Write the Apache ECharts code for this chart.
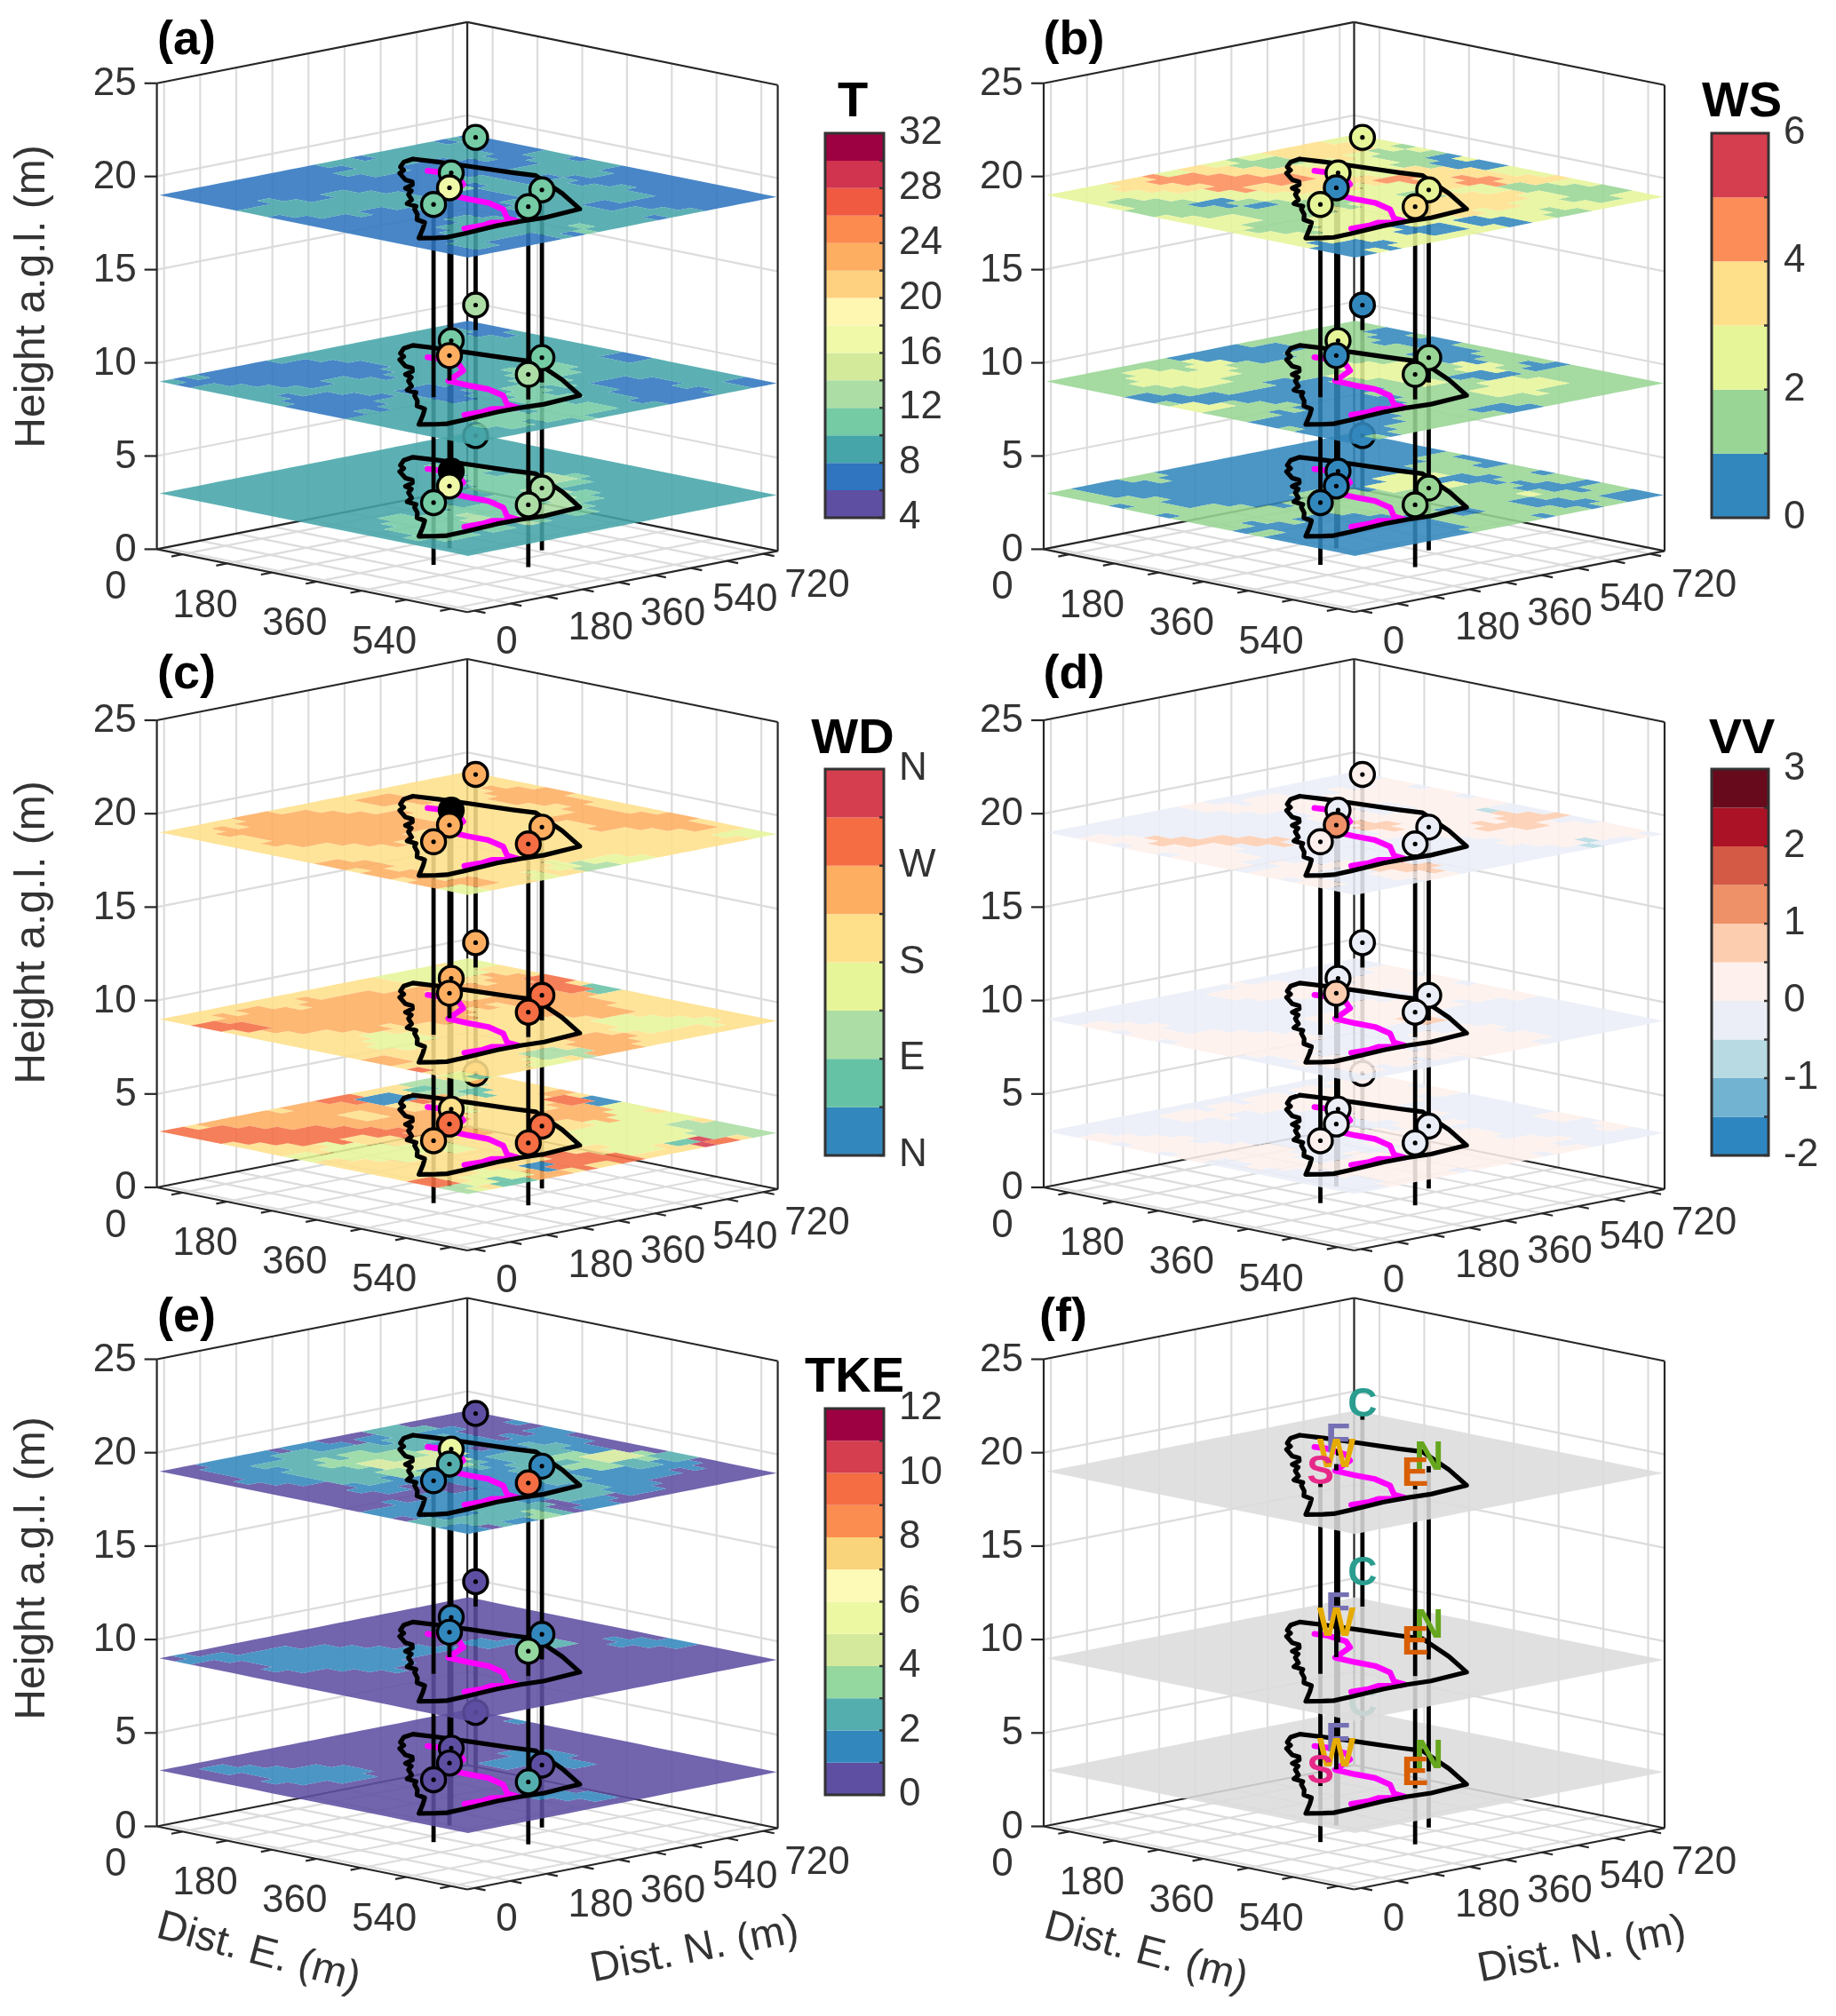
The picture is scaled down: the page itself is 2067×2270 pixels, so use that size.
<!DOCTYPE html>
<html>
<head>
<meta charset="utf-8">
<title>Tower profiles</title>
<script src="https://cdn.jsdelivr.net/npm/echarts@6/dist/echarts.min.js"></script>
<style>
  html,body{margin:0;padding:0;background:#fff;}
  #main{width:2067px;height:2270px;}
</style>
</head>
<body>
<div id="main"></div>
<script>
// axes
var eTicks = [0,90,180,270,360,450,540];
var nTicks = [0,90,180,270,360,450,540,630,720];
var zTicks = [0,5,10,15,20,25];
var eLabels = [0,180,360,540];
var nLabels = [0,180,360,540,720];
var planeHeights = [3,9,19];
var markerHeights = [3.34,10.34,19.34];

// stations, back to front
var stationNames = ['C','F','N','W','E','S'];
var stationColors = ['#2a9d8f','#7570b3','#66a61e','#e6ab02','#d95f02','#e7298a'];
var stationE = [6,161,336,234,407,302];
var stationN = [706,453,462,358,340,234];

// site outline and transect, dist E / dist N
var outlineE = [21,27,49,68,80,118,135,150,160,180,195,225,240,262,275,305,330,352,380,425,441,449,447,440,441,447,438,342,245,226,188,116,61,21];
var outlineN = [531,501,465,450,425,392,388,370,340,330,304,275,245,240,220,190,158,150,111,45,68,85,131,221,278,330,430,505,570,583,572,557,544,531];
var pathE = [95,115,164,198,235,277,316,364,413,438,434,419,425,422];
var pathN = [476,482,469,437,354,351,353,331,280,275,252,233,203,162];

// colour bands, low to high
var tColors = ['#5e4fa2','#2f75bf','#45a5a8','#74cba4','#abdda4','#d3ea9b','#f0f9a8','#fdf7b2','#fdd17f','#fdae61','#fb8b4f','#ef5a41','#d0344e','#9e0142'];
var wsColors = ['#3288bd','#99d594','#e6f598','#fee08b','#fc8d59','#d53e4f'];
var wdColors = ['#3288bd','#66c2a5','#abdda4','#e6f598','#fee08b','#fdae61','#f46d43','#d53e4f'];
var vvColors = ['#2e86c0','#72b3d2','#b8dbe3','#ebeef7','#fef0ec','#fdcdb0','#ef9168','#d45a45','#ab1226','#670a1c'];
var tkeColors = ['#5e4fa2','#3288bd','#54aead','#94d79f','#d5e99c','#edf8a3','#fdfab8','#f9d47a','#fb8d50','#f46d43','#d53e4f','#9e0142'];
var wdTickNames = ['N','E','S','W','N'];

// marker values per height, same order as stationNames. NaN = no marker, BLK = drawn black
var BLK = -99;
var tTop = [11,11,11,17,11,11];
var tMid = [13,11,11,23,13,NaN];
var tLow = [9,BLK,13,17,13,11];
var wsTop = [2.5,2.5,2.5,0.5,3.5,2.5];
var wsMid = [0.5,2.5,1.5,0.5,1.5,NaN];
var wsLow = [0.5,0.5,1.5,0.5,1.5,0.5];
var wdTop = [247,BLK,247,247,292,247];
var wdMid = [247,247,292,247,292,NaN];
var wdLow = [247,202,292,292,292,247];
var vvTop = [0.25,-0.25,-0.25,1.25,-0.25,0.25];
var vvMid = [-0.25,-0.25,-0.25,0.75,-0.25,NaN];
var vvLow = [0.25,-0.25,-0.25,-0.25,-0.25,0.25];
var tkeTop = [0.5,5.5,1.5,2.5,9.5,1.5];
var tkeMid = [0.5,1.5,1.5,1.5,3.5,NaN];
var tkeLow = [0.5,0.5,0.5,0.5,2.5,0.5];

// plane colour band: rows go back corner to front corner, columns left corner to right corner
var tPlane19 = [
'..............21..............',
'............222111............',
'..........2222221122..........',
'........22221111112222........',
'......111222111112222211......',
'....1111111111222112111111....',
'..11111111111131222222211111..',
'111111112222211112222222111111',
'..11122222222111122221111111..',
'....2222221111111122222222....',
'......111111112222222222......',
'........11111122222232........',
'..........1111222112..........',
'............112211............',
'..............11..............'];
var tPlane9 = [
'..............11..............',
'............222112............',
'..........2222222222..........',
'........22222222222222........',
'......222222222222222211......',
'....1111111222222233222222....',
'..11111111122222233322222222..',
'211111112222222223332111122211',
'..22222222221112233222111112..',
'....2211111221122333222111....',
'......111112222222333322......',
'........11222222333332........',
'..........2222233322..........',
'............222222............',
'..............22..............'];
var tPlane3 = [
'..............22..............',
'............222222............',
'..........2222222222..........',
'........22222222222222........',
'......222222233322222222......',
'....2222222222233344322222....',
'..22222222222223334322222222..',
'222222222222222233443222222222',
'..22222222222222333432222222..',
'....2222222222333344322222....',
'......222223333434322222......',
'........22233333322222........',
'..........2233322222..........',
'............222222............',
'..............22..............'];

var wsPlane19 = [
'..............22..............',
'............333321............',
'..........2333321110..........',
'........21112222211000........',
'......233333332223333322......',
'....3444444443334433443332....',
'..23333344333332223322111111..',
'222222222222222221133332211122',
'..21111001011112223333322222..',
'....1111111111222333322211....',
'......222211122222220002......',
'........22111222200022........',
'..........2222222222..........',
'............200002............',
'..............00..............'];
var wsPlane9 = [
'..............11..............',
'............111100............',
'..........1111110000..........',
'........00001111110001........',
'......000000111111000111......',
'....1112211111222211221001....',
'..11222221111122221100011111..',
'111122222110001112211222211111',
'..11111111000000111112221111..',
'....0000000000000111111111....',
'......222111000001111000......',
'........11100000011111........',
'..........0000000111..........',
'............000001............',
'..............00..............'];
var wsPlane3 = [
'..............00..............',
'............000000............',
'..........0000000001..........',
'........00000000001110........',
'......000000000000111111......',
'....1100000000002220001111....',
'..00000000000000222211100011..',
'110000000000111111111112111000',
'..11110000001111111111100001..',
'....1111111111111110011111....',
'......111111000000011111......',
'........11000000000011........',
'..........1000000000..........',
'............000000............',
'..............00..............'];

var wdPlane19 = [
'..............44..............',
'............444444............',
'..........4444445555..........',
'........44555444555554........',
'......444444444444445544......',
'....5555555544444445555555....',
'..44555555555544444445555554..',
'444555555555444444444444444333',
'..44455555554444444444444444..',
'....4444444444444444444444....',
'......444444444444444333......',
'........55544444444322........',
'..........5554444434..........',
'............555544............',
'..............33..............'];
var wdPlane9 = [
'..............33..............',
'............333344............',
'..........4333445566..........',
'........44445555556661........',
'......444555544455555444......',
'....4445555555554555554444....',
'..44555555555554445555544444..',
'444555555555555444444333333444',
'..66655555544444444444333444..',
'....4444443334444444555444....',
'......444433344444445554......',
'........44444444442225........',
'..........5544444433..........',
'............644444............',
'..............31..............'];
var wdPlane3 = [
'..............33..............',
'............222244............',
'..........4412214445..........',
'........66006544444660........',
'......555554443444455533......',
'....5555544555544455553333....',
'..55555555555544444443333222..',
'666666666666555544443333332222',
'..66666664444444444433333176..',
'....4444333333344444443344....',
'......333333344444466664......',
'........44444444440664........',
'..........4444433355..........',
'............664311............',
'..............23..............'];

var vvPlane19 = [
'..............33..............',
'............333344............',
'..........3333444444..........',
'........33444444444444........',
'......344444444333444233......',
'....3333333334444444445553....',
'..33333333333345544445554444..',
'333333333333333344444444444443',
'..44455555553333333333444423..',
'....4444433333333333333333....',
'......444433333333333333......',
'........44344444555333........',
'..........4443334444..........',
'............443333............',
'..............33..............'];
var vvPlane9 = [
'..............33..............',
'............333344............',
'..........3333344444..........',
'........34444444444444........',
'......334444433333444444......',
'....3333333333344444333333....',
'..33333333333344444333333333..',
'333333333333344445533333333333',
'..44443333333333333344333333..',
'....4444444443333344444433....',
'......444444433333444444......',
'........44444333444444........',
'..........3344444433..........',
'............334433............',
'..............33..............'];
var vvPlane3 = [
'..............33..............',
'............334444............',
'..........3344444444..........',
'........33444444443333........',
'......334444444443333333......',
'....3344433333344443333344....',
'..33333333333333344433333334..',
'333333333333334444444433333333',
'..44444333333333444444444333..',
'....4444444433333444444444....',
'......444444333444444444......',
'........33444444444444........',
'..........3333444444..........',
'............333344............',
'..............33..............'];

var tkePlane19 = [
'..............00..............',
'............000001............',
'..........2221100011..........',
'........00122211011110........',
'......111222211011221100......',
'....1122233334412223344322....',
'..11122233444432122233221100..',
'001111222223321112221111100000',
'..00111122211111112221110000..',
'....0000011100011111221100....',
'......000000011111122100......',
'........00011111222011........',
'..........1111122232..........',
'............222221............',
'..............11..............'];
var tkePlane9 = [
'..............00..............',
'............000000............',
'..........0000000000..........',
'........00000000000000........',
'......000000000000000000......',
'....0000000000011122001111....',
'..00011111111100000000000000..',
'011111111111000000000000000000',
'..00011111110000000000000000..',
'....0000000000000000000000....',
'......000000000000000000......',
'........00000000000000........',
'..........0000000000..........',
'............000000............',
'..............00..............'];
var tkePlane3 = [
'..............00..............',
'............000001............',
'..........0000000000..........',
'........00000000000000........',
'......000000000000000000......',
'....0000000000000111000000....',
'..00000000000000112110000000..',
'001111111100000000000000000000',
'..00011111000000000000000000..',
'....0000000000000000000000....',
'......000000000000111100......',
'........00000000000000........',
'..........0000000000..........',
'............000000............',
'..............00..............'];

// layout
var eMin=-51, eMax=573, nMin=-18, nMax=756, zMax=25;
var planeE0=-48, planeE1=572, planeN0=-15, planeN1=755, nECells=20, nNCells=26;
var halfW=349.5, dropE=71, riseN=69, zScale=21.04;
var panelLeft=[176.6,1175,176.6,1175,176.6,1175];
var panelBase=[618,618,1337,1337,2056.5,2056.5];
var barLeft=[929,1927,929,1927,929], barWidth=[66,64,66,64,66];
var barTop=[150,150,866,866,1586], barHeight=[433,433,435,435,435];
var FONT='"Liberation Sans"';
var INK='#333333';

var panels=[
  {label:'(a)',title:'T',colors:tColors,min:4,step:2,tick:4,planes:[tPlane3,tPlane9,tPlane19],bases:[2,2,1],marks:[tLow,tMid,tTop]},
  {label:'(b)',title:'WS',colors:wsColors,min:0,step:1,tick:2,planes:[wsPlane3,wsPlane9,wsPlane19],bases:[0,1,2],marks:[wsLow,wsMid,wsTop]},
  {label:'(c)',title:'WD',colors:wdColors,min:0,step:45,tick:90,planes:[wdPlane3,wdPlane9,wdPlane19],bases:[4,4,4],marks:[wdLow,wdMid,wdTop],names:wdTickNames},
  {label:'(d)',title:'VV',colors:vvColors,min:-2,step:0.5,tick:1,planes:[vvPlane3,vvPlane9,vvPlane19],bases:[3,3,3],marks:[vvLow,vvMid,vvTop]},
  {label:'(e)',title:'TKE',colors:tkeColors,min:0,step:1,tick:2,planes:[tkePlane3,tkePlane9,tkePlane19],bases:[0,0,0],marks:[tkeLow,tkeMid,tkeTop]},
  {label:'(f)',title:'',colors:['#dcdcdc'],min:0,step:1,planes:[[],[],[]],bases:[0,0,0],letters:true}
];

function proj(E,N,z){
  var u=(E-eMin)/(eMax-eMin), v=(N-nMin)/(nMax-nMin);
  return [170+halfW*(u+v), 620+dropE*u-riseN*v-z*zScale];
}

function customSeries(idx,order,rows,draw){
  return {
    type:'custom',xAxisIndex:idx,yAxisIndex:idx,z:order,silent:true,animation:false,clip:false,
    data:rows.map(function(r,k){return [k,k];}),
    renderItem:function(params,api){
      return draw(rows[params.dataIndex],function(E,N,z){return api.coord(proj(E,N,z));},api);
    }
  };
}

function seg(a,b,color,width){
  return {type:'line',shape:{x1:a[0],y1:a[1],x2:b[0],y2:b[1]},style:{stroke:color,lineWidth:width,lineCap:'butt'}};
}

function frameRows(){
  var rows=[], GRID='#dcdcdc', BOX='#262626';
  eTicks.forEach(function(e){
    rows.push([e,nMax,0,e,nMax,zMax,GRID,2.2]);
    rows.push([e,nMin,0,e,nMax,0,GRID,2.2]);
  });
  nTicks.forEach(function(n){
    rows.push([eMin,n,0,eMin,n,zMax,GRID,2.2]);
    rows.push([eMin,n,0,eMax,n,0,GRID,2.2]);
  });
  zTicks.slice(1,5).forEach(function(z){
    rows.push([eMin,nMin,z,eMin,nMax,z,GRID,2.2]);
    rows.push([eMin,nMax,z,eMax,nMax,z,GRID,2.2]);
  });
  // box edges
  rows.push([eMin,nMin,zMax,eMin,nMax,zMax,BOX,2.2]);
  rows.push([eMin,nMax,zMax,eMax,nMax,zMax,BOX,2.2]);
  rows.push([eMin,nMin,0,eMin,nMin,zMax,BOX,2.2]);
  rows.push([eMin,nMax,0,eMin,nMax,zMax,BOX,2.2]);
  rows.push([eMax,nMax,0,eMax,nMax,zMax,BOX,2.2]);
  rows.push([eMin,nMin,0,eMax,nMin,0,BOX,2.2]);
  rows.push([eMax,nMin,0,eMax,nMax,0,BOX,2.2]);
  rows.push([eMin,nMin,0,eMin,nMax,0,BOX,2.2]);
  rows.push([eMin,nMax,0,eMax,nMax,0,BOX,2.2]);
  // floor ticks stick out along the other axis
  eTicks.forEach(function(e){ rows.push([e,nMin,0,e,nMin-27,0,BOX,2.2]); });
  nTicks.forEach(function(n){ rows.push([eMax,n,0,eMax+22,n,0,BOX,2.2]); });
  return rows;
}

function bandIndex(p,v){ return Math.floor((v-p.min)/p.step); }

// one path per colour band, so cells of one band have no seams between them
function planeRows(p,lvl){
  var scan=p.planes[lvl], base=p.bases[lvl], z=planeHeights[lvl], byBand={};
  for(var i=0;i<nECells;i++){
    for(var j=0;j<nNCells;j++){
      var u=(i+0.5)/nECells, v=(j+0.5)/nNCells;
      var r=Math.floor((u-v+1)/2*15), c=Math.floor((u+v)/2*30);
      var ch=scan[r]?scan[r].charAt(c):'.';
      var band=(ch==='.'||ch==='')?base:parseInt(ch,36);
      (byBand[band]=byBand[band]||[]).push([i,j]);
    }
  }
  return Object.keys(byBand).map(function(b){
    return {color:p.colors[+b],cells:byBand[b],z:z};
  });
}

function drawPlane(row,at){
  var dE=(planeE1-planeE0)/nECells, dN=(planeN1-planeN0)/nNCells, d='';
  row.cells.forEach(function(cell){
    var e0=planeE0+cell[0]*dE, e1=e0+dE, n0=planeN0+cell[1]*dN, n1=n0+dN;
    var a=at(e0,n0,row.z), b=at(e1,n0,row.z), c=at(e1,n1,row.z), f=at(e0,n1,row.z);
    d+='M'+a[0]+' '+a[1]+'L'+b[0]+' '+b[1]+'L'+c[0]+' '+c[1]+'L'+f[0]+' '+f[1]+'Z';
  });
  return {type:'path',shape:{pathData:d},style:{fill:row.color,opacity:0.88}};
}

function polyline(xs,ys,z,color,width){
  return function(row,at){
    var pts=xs.map(function(x,k){return at(x,ys[k],z);});
    return {type:'polyline',shape:{points:pts},style:{stroke:color,lineWidth:width,lineJoin:'round',lineCap:'round',fill:null}};
  };
}

function buildPanel(p,idx,out){
  var order=2;
  var add=function(rows,draw){ out.push(customSeries(idx,order++,rows,draw)); };
  add(frameRows(),function(r,at){ return seg(at(r[0],r[1],r[2]),at(r[3],r[4],r[5]),r[6],r[7]); });

  var stemFrom=0;
  function stems(to){
    var from=stemFrom; stemFrom=to;
    add(stationE,function(e,at){
      var k=stationE.indexOf(e);
      return seg(at(e,stationN[k],from),at(e,stationN[k],to),'#000',4.8);
    });
  }
  function marks(lvl){
    var z=markerHeights[lvl];
    add(stationE,function(e,at){
      var k=stationE.indexOf(e), c=at(e,stationN[k],z);
      if(p.letters){
        if(lvl===1&&stationNames[k]==='S') return null;
        return {type:'text',x:c[0],y:c[1]-9,style:{text:stationNames[k],font:'bold 46px '+FONT,fill:stationColors[k],align:'center',verticalAlign:'middle'}};
      }
      var val=p.marks[lvl][k];
      if(isNaN(val)) return null;
      var fill=val===BLK?'#000':p.colors[bandIndex(p,val)];
      return {type:'group',children:[
        {type:'circle',shape:{cx:c[0],cy:c[1],r:13.5},style:{fill:fill,stroke:'#000',lineWidth:3.4}},
        {type:'circle',shape:{cx:c[0],cy:c[1],r:2.6},style:{fill:'#000'}}
      ]};
    });
  }

  for(var lvl=0;lvl<3;lvl++){
    stems(planeHeights[lvl]);
    add(planeRows(p,lvl),drawPlane);
    add([0],polyline(pathE,pathN,planeHeights[lvl],'#ff00ff',6.5));
    add([0],polyline(outlineE,outlineN,planeHeights[lvl],'#000',5.2));
    if(lvl<2){ stems(planeHeights[lvl+1]); }
    else{ stems(markerHeights[2]); }
    marks(lvl);
  }

  // axis text
  add(zTicks,function(z,at){
    var c=at(eMin,nMin,z);
    return {type:'group',children:[
      {type:'line',shape:{x1:c[0]-14,y1:c[1],x2:c[0],y2:c[1]},style:{stroke:'#262626',lineWidth:2.2}},
      {type:'text',x:c[0]-23,y:c[1]+1,style:{text:String(z),font:'44px '+FONT,fill:INK,align:'right',verticalAlign:'middle'}}
    ]};
  });
  add(eLabels,function(e,at){
    var c=at(e,nMin,0);
    return {type:'text',x:c[0]-75,y:c[1]+38,style:{text:String(e),font:'44px '+FONT,fill:INK,align:'center',verticalAlign:'middle'}};
  });
  add(nLabels,function(n,at){
    var c=at(eMax,n,0);
    return {type:'text',x:c[0]+24,y:c[1]+36,style:{text:String(n),font:'44px '+FONT,fill:INK,align:'left',verticalAlign:'middle'}};
  });
}

var option={animation:false,backgroundColor:'#fff',grid:[],xAxis:[],yAxis:[],series:[],graphic:{elements:[]}};

panels.forEach(function(p,i){
  option.grid.push({left:panelLeft[i]-170,top:panelBase[i]-620,width:950,height:780,containLabel:false});
  option.xAxis.push({type:'value',gridIndex:i,min:0,max:950,show:false});
  option.yAxis.push({type:'value',gridIndex:i,min:0,max:780,inverse:true,show:false});
  buildPanel(p,i,option.series);
});

// colour bars
panels.forEach(function(p,i){
  if(!p.title) return;
  var idx=option.grid.length;
  var maxV=p.min+p.step*p.colors.length;
  option.grid.push({left:barLeft[i],top:barTop[i],width:barWidth[i],height:barHeight[i]});
  option.xAxis.push({type:'value',gridIndex:idx,min:0,max:1,show:false});
  option.yAxis.push({type:'value',gridIndex:idx,min:p.min,max:maxV,interval:p.tick,position:'right',
    axisLine:{show:false},axisTick:{show:false},splitLine:{show:false},
    axisLabel:{show:true,margin:17,fontSize:44,fontFamily:'Liberation Sans',color:INK,lineHeight:50,padding:[8,0,0,0],
      formatter:function(v){ return p.names?p.names[Math.round(v/p.tick)]:String(v); }}});
  var rows=p.colors.map(function(c,k){return {lo:p.min+k*p.step,hi:p.min+(k+1)*p.step,color:c};});
  rows.push({border:true});
  option.series.push({
    type:'custom',xAxisIndex:idx,yAxisIndex:idx,z:90,silent:true,animation:false,clip:false,
    data:rows.map(function(r,k){return [k,k];}),
    renderItem:function(params,api){
      var r=rows[params.dataIndex];
      if(r.border){
        var a=api.coord([0,maxV]), b=api.coord([1,p.min]);
        return {type:'rect',shape:{x:a[0],y:a[1],width:b[0]-a[0],height:b[1]-a[1]},style:{fill:null,stroke:'#333',lineWidth:3}};
      }
      var top=api.coord([0,r.hi]), bot=api.coord([1,r.lo]);
      return {type:'group',children:[
        {type:'rect',shape:{x:top[0],y:top[1],width:bot[0]-top[0],height:bot[1]-top[1]},style:{fill:r.color}},
        {type:'line',shape:{x1:bot[0]-5,y1:bot[1],x2:bot[0],y2:bot[1]},style:{stroke:'#333',lineWidth:2.5}}
      ]};
    }
  });
});

// titles
function label(text,x,y,font,color,deg){
  option.graphic.elements.push({type:'text',x:x,y:y,rotation:(deg||0)*Math.PI/180,silent:true,z:100,
    style:{text:text,font:font,fill:color,align:'center',verticalAlign:'middle'}});
}
var labelX=[210,1209,210,1209,210,1197], labelY=[46,46,760,760,1484,1484];
var barTitleX=[960,1961,960,1961,962], barTitleY=[116,116,833,833,1552];
panels.forEach(function(p,i){
  label(p.label,labelX[i],labelY[i],'bold 54px '+FONT,'#000');
  if(p.title) label(p.title,barTitleX[i],barTitleY[i],'bold 56px '+FONT,'#000');
});
[334,1050,1766].forEach(function(y){ label('Height a.g.l. (m)',37,y,'48px '+FONT,INK,90); });
[[291,782],[1290,1781]].forEach(function(xs){
  label('Dist. E. (m)',xs[0],2199,'47px '+FONT,INK,-15);
  label('Dist. N. (m)',xs[1],2196,'47px '+FONT,INK,11);
});

var chart=echarts.init(document.getElementById('main'),null,{renderer:'canvas'});
chart.setOption(option);
</script>
</body>
</html>
